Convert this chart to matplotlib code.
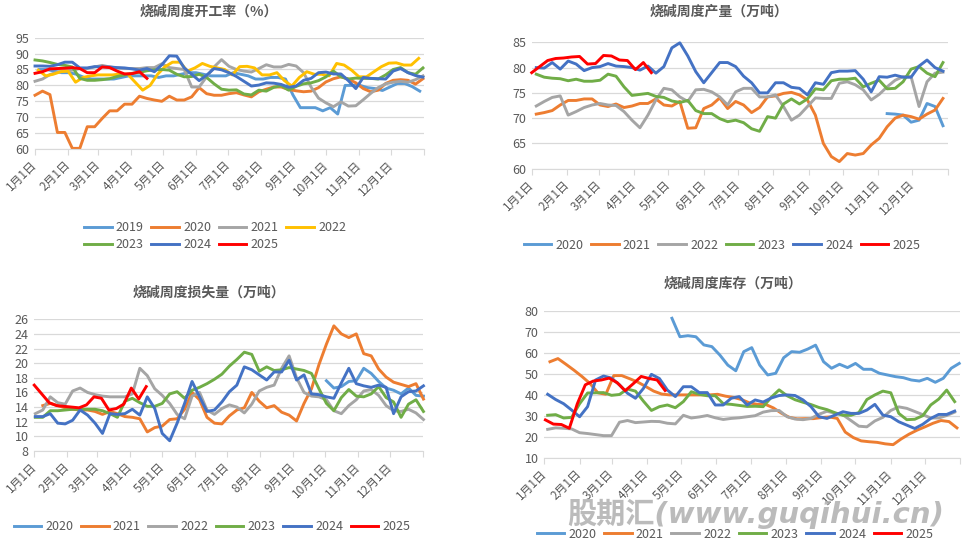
import numpy as np
import matplotlib
matplotlib.use('Agg')
import matplotlib.pyplot as plt

plt.rcParams['font.family'] = ['Noto Sans CJK SC', 'DejaVu Sans']

month_days = [0, 31, 59, 90, 120, 151, 181, 212, 243, 273, 304, 334, 365]
month_labels = ['1月1日', '2月1日', '3月1日', '4月1日', '5月1日', '6月1日', '7月1日',
                '8月1日', '9月1日', '10月1日', '11月1日', '12月1日', '']

# ---- 烧碱周度开工率（%） weekly values, first week start day ----
rate_2019 = [85, 85, 84.5, 84, 84, 83.5, 82.5, 82, 82, 82, 82, 82.5, 83, 83, 83, 83, 82.5, 83, 83, 83.5,
             84, 84, 83.5, 83, 83, 83, 84, 83.5, 83, 82, 82, 82.5, 82.5, 82, 77, 73, 73, 73, 72, 73,
             71, 80, 80, 80, 79.3, 79, 78.4, 79.5, 80.6, 80.6, 79.6, 78.2]
rate_2020 = [76.9, 78.2, 77.1, 65.2, 65.2, 60.2, 60.2, 67, 67, 69.6, 72, 72, 74.1, 74.1, 76.6, 75.9, 75.4, 75,
             76.6, 75.4, 75.4, 76.4, 79.3, 77.4, 76.9, 76.9, 77.4, 77.7, 77, 76.4, 78, 78.8, 79.5, 79.5, 78.7,
             78.3, 78, 78.2, 79.3, 81.1, 82.1, 82.7, 82, 80.8, 79, 78, 78.5, 80.6, 81.6, 81.8, 81.6, 80.4, 82.1]
rate_2021 = [81.3, 82, 83.4, 84.2, 84.5, 84.8, 85.3, 85.3, 85.8, 86.3, 85.8, 85.5, 85.3, 85.3, 85.3, 85.6, 85.6,
             86.8, 85.6, 85.3, 85, 79.5, 79.5, 82.7, 85.8, 88.1, 86, 85, 84.5, 84.2, 85.3, 86.5, 85.8, 85.8,
             86.6, 86.1, 84, 79.5, 76, 74.5, 73.3, 74.8, 73.5, 73.6, 75.5, 77.5, 79.3, 80.5, 81, 81.3, 81, 81.8, 83]
rate_2022 = [84.8, 83, 83.5, 84.3, 84.5, 81, 82.5, 83, 83.3, 83.3, 83.3, 83.6, 83.5, 81, 78.5, 80, 83.5, 85.9,
             87.3, 87.3, 84.5, 85.5, 86.9, 86, 85.5, 85, 83.3, 85.9, 86, 85.5, 83.3, 83.3, 84, 81.5, 79.8, 82.5,
             84.3, 83.5, 83.5, 83, 86.9, 86.4, 84.8, 82.7, 82.7, 84.3, 85.9, 87, 87.1, 86.4, 86.4, 88.5]
rate_2023 = [88, 87.7, 87.2, 86.6, 86.3, 85.8, 82.2, 81.6, 81.6, 81.8, 82.1, 82.8, 83.3, 83.8, 84.1, 84.6, 84.9,
             85, 84.8, 83.5, 82.7, 82.8, 83.5, 82.5, 80.5, 78.8, 78.5, 78.6, 77.3, 77, 78.5, 78.2, 79.4, 79.9,
             78.5, 79.7, 80.5, 80.8, 81.5, 82.7, 84.5, 82.7, 82, 82.3, 82.2, 82.2, 82, 83.3, 85, 85.6, 84, 83.5, 85.5]
rate_2024 = [86.1, 86.1, 86, 86.5, 87.3, 87.3, 85.5, 85.5, 85.9, 85.8, 85.8, 85.6, 85.5, 85.2, 84.8, 85.3, 84.3,
             86.5, 89.3, 89.2, 85.5, 83.5, 81.5, 83.2, 85.3, 84.9, 84, 82.8, 81.3, 79.8, 80.1, 80.8, 80.7, 80.3,
             79.4, 79.8, 81.6, 82.2, 84, 84.2, 83.6, 83.6, 81.5, 79, 82.5, 82.2, 82.1, 82, 84.5, 85.3, 84, 83.1, 82.6]
rate_2025 = [83.8, 84.3, 85.2, 85.3, 85.4, 85.6, 85.3, 84, 84, 85.8, 85.6, 84.5, 83.6, 83.7, 84.3, 82.2]

# ---- 烧碱周度产量（万吨） ----
prod_2020 = [70.9, 70.8, 70.6, 69.2, 69.6, 72.9, 72.3, 68.5]
prod_2021 = [70.8, 71.1, 71.5, 72.6, 73.5, 73.5, 73.8, 73.8, 72.6, 72.3, 72.8, 72.1, 72.4, 72.9, 72.9, 73.8,
             72.6, 72.4, 73.3, 68, 68.1, 71.9, 72.6, 74, 71.9, 73.3, 72.6, 71.1, 72.1, 74.2, 74.4, 74.9, 75.1,
             74.6, 73.6, 70.6, 65, 62.4, 61.4, 63, 62.7, 63, 64.7, 66, 68.3, 70, 70.6, 70.3, 69.8, 70.8, 71.6, 73.9]
prod_2022 = [72.4, 73.3, 74.1, 74.4, 70.6, 71.3, 72.1, 72.6, 72.9, 72.6, 72.5, 71.3, 69.6, 68.1, 70.6, 73.6,
             75.9, 75.6, 74.2, 73.3, 75.6, 75.7, 75.2, 74.2, 72.6, 75.2, 75.9, 75.9, 74.2, 74.2, 74.6, 72.3,
             69.6, 70.6, 72.3, 74, 73.9, 73.9, 76.9, 77.2, 76.6, 75.6, 73.6, 74.7, 76.2, 77.5, 78.2, 78.2, 72.3,
             77.2, 78.9, 79.1]
prod_2023 = [78.7, 78.1, 77.9, 77.8, 77.4, 77.7, 77.3, 77.3, 77.5, 78.7, 78.3, 76.2, 74.5, 74.7, 74.9, 74.3,
             74.1, 73.4, 73.1, 73.5, 71.5, 70.9, 70.9, 69.9, 69.3, 69.6, 69.1, 67.9, 67.4, 70.3, 70, 72.8, 73.8,
             72.8, 73.8, 75.8, 75.6, 77.4, 77.7, 77.7, 77.9, 76.2, 76.9, 77.5, 75.8, 75.9, 77.2, 79.7, 80.2, 78.9,
             78.2, 81]
prod_2024 = [80, 79.9, 81, 79.7, 81.3, 80.7, 79.4, 80, 80.2, 80.8, 80.3, 80.2, 80, 79.5, 80.3, 78.9, 80.2, 83.9,
             84.9, 82.3, 79.2, 77, 79, 81, 81, 80.2, 78.3, 77, 75, 75, 77, 77, 76.1, 75.9, 74.6, 77, 76.7, 79,
             79.3, 79.3, 79.4, 77.7, 75.2, 78.2, 78.1, 78.5, 78.1, 78.1, 80.3, 81.5, 80, 79.3]
prod_2025 = [79, 80.2, 81.4, 81.8, 81.9, 82.1, 82.2, 80.7, 80.8, 82.4, 82.3, 81.5, 81.4, 79.6, 81, 79]

# ---- 烧碱周度损失量（万吨） ----
loss_2020 = [17.6, 16.6, 16.8, 17.5, 17.6, 19.3, 18.6, 17.5, 16.6, 16.3, 15.8, 16.6, 15.6, 15.5]
loss_2021 = [14.2, 14.5, 14.2, 13.9, 13.7, 13.6, 13.6, 13.4, 13, 13.4, 13.1, 12.7, 12.6, 12.4, 10.6, 11.2, 11.4,
             12.3, 12.4, 13.7, 16, 15, 12.6, 11.8, 11.7, 12.8, 13.6, 13.9, 16, 14.8, 13.9, 14.2, 13.3, 12.9,
             12.1, 14.5, 16.5, 19.8, 22.6, 25.1, 24, 23.5, 24, 21.3, 21, 19.2, 18.1, 17.4, 17.1, 16.8, 17.2, 15.1]
loss_2022 = [13.1, 13.6, 15.4, 14.6, 14.4, 16.2, 16.6, 16, 15.7, 15.5, 15.4, 15.4, 15.4, 15.8, 19.3, 18.3, 16.5,
             15.6, 14.5, 13, 12.4, 15.5, 16, 13.6, 13, 13.8, 14.3, 14, 13.2, 14.4, 16.2, 16.7, 17, 19.3, 21, 18,
             16, 15.5, 15.4, 15, 13.5, 13.1, 14.2, 15, 16.2, 16.4, 15.6, 14.2, 13.5, 13.4, 13.7, 13.2, 12.3]
loss_2023 = [12.6, 12.6, 13.5, 13.5, 13.6, 13.7, 13.7, 13.7, 13.7, 13.5, 13.1, 12.6, 14.8, 15.2, 14.6, 14.1,
             14.1, 14.5, 15.8, 16.1, 15.2, 16.3, 16.7, 17.2, 17.8, 18.5, 19.6, 20.5, 21.5, 21.2, 18.9, 19.5, 19,
             19.1, 19.4, 19.2, 19, 18.6, 16.5, 14.5, 13.5, 15.3, 16.4, 15.5, 15.4, 15.8, 16.8, 15.3, 14.7, 12.6,
             14.4, 15, 13.4]
loss_2024 = [12.7, 12.7, 13.1, 11.8, 11.7, 12.2, 13.6, 12.9, 11.8, 10.4, 13.1, 13, 13.1, 13.7, 12.9, 15.4, 13.8,
             10.4, 9.4, 11.8, 14.5, 17.5, 15.4, 13.4, 13.6, 14.7, 16.1, 17, 19.5, 19.1, 18.4, 17.7, 18.8, 18.8,
             20.4, 17.7, 18.4, 15.8, 15.7, 15.4, 15.2, 17.3, 19.3, 17.2, 16.9, 16.7, 17, 16.7, 13.1, 15.4, 16.1,
             16.2, 16.9]
loss_2025 = [17, 15.8, 14.6, 14.2, 14.1, 14, 13.9, 14.3, 15.4, 15.2, 13.6, 13.8, 14.4, 16.6, 15.1, 16.8]

# ---- 烧碱周度库存（万吨） ----
stock_2020 = [76.7, 67.9, 68.4, 67.9, 64, 63.2, 59.2, 54.4, 51.7, 60.8, 62.7, 54.4, 49.7, 50.5, 57.9, 60.8,
              60.5, 62, 63.9, 56, 52.9, 54.8, 53.2, 55.2, 52.4, 52.4, 50.5, 49.7, 48.9, 48.4, 47.3, 46.8, 48.1,
              46.2, 48.1, 52.9, 55.2]
stock_2021 = [56, 57.5, 54.8, 52, 49, 45.7, 41.2, 40.5, 49.4, 49.4, 47.9, 46.3, 44.2, 42, 40.6, 40.2, 40.2,
              40.2, 40.2, 40.2, 40.2, 40.5, 39.6, 39, 38, 36.4, 35.7, 35.7, 34, 31.5, 29.5, 28.8, 28.9, 28.9,
              29.4, 29.7, 29, 22.5, 19.9, 18.3, 17.9, 17.6, 16.9, 16.5, 19.2, 21.5, 23.4, 25, 26.7, 28, 27.5, 24.5]
stock_2022 = [23.8, 24.5, 24.3, 24, 22.2, 21.8, 21.3, 20.8, 20.8, 27.2, 28, 27, 27.3, 27.6, 27.5, 26.7, 26.4,
              30.5, 29.2, 29.7, 30.4, 29.3, 28.5, 29, 29.3, 29.8, 30.3, 32, 32.7, 32.8, 29.8, 28.7, 28.4, 29, 31,
              32.4, 31.5, 30.7, 28, 25.3, 25, 27.8, 29.5, 32.8, 34.5, 33.8, 32.3, 30.8, 29.2, 29.2, 30.4, 32]
stock_2023 = [30.5, 30.8, 29.2, 29.5, 36, 41.1, 41.2, 41.3, 40, 40.4, 43, 42, 37.2, 32.8, 34.6, 35.4, 34.1, 37,
              41.7, 40.5, 39.8, 39.8, 36, 35.7, 35.2, 34.7, 34.8, 34.6, 39, 42.6, 39.8, 37.9, 36.7, 35.6, 34.2,
              33.2, 31.7, 30.5, 30.5, 31.8, 38, 40.2, 42, 41.2, 31.4, 28.4, 28.6, 30.3, 35.4, 38.2, 42.5, 37]
stock_2024 = [40.5, 38, 36, 33, 29.8, 34.6, 47.3, 49.2, 48.2, 45, 41, 38.6, 43.3, 50, 48, 42.5, 39.4, 44.1, 44.1,
              41.3, 41.3, 35.4, 35.4, 38.6, 39.4, 35.4, 37.8, 36.8, 38.7, 39.9, 40.2, 39.9, 37.8, 34.6, 29.8, 29,
              30.6, 32.2, 31.4, 31.4, 33, 35.7, 30.6, 29.8, 27.4, 25.8, 24.2, 26.2, 29, 30.9, 30.9, 32.5]
stock_2025 = [28.3, 26.3, 26.1, 24.3, 36, 45, 46.8, 47.3, 48.2, 46, 42.2, 45.5, 49, 48, 47.3, 42.3]

c = {'blue_l': '#5B9BD5', 'orange': '#ED7D31', 'gray': '#A5A5A5', 'yellow': '#FFC000',
     'green': '#70AD47', 'blue': '#4472C4', 'red': '#FF0000'}
txt = '#595959'
grid = '#D9D9D9'

W, H = 965, 544
fig = plt.figure(figsize=(W / 100, H / 100), dpi=100)


def px(x, y):
    return x / W, 1 - y / H


def draw(rect, title, tpos, series, ylim, ystep, legpos, ncol, order=None):
    ax = fig.add_axes(rect)
    handles = []
    for label, vals, start, col in series:
        x = start + 7 * np.arange(len(vals))
        h, = ax.plot(x, vals, color=col, lw=2.1, label=label, clip_on=False, solid_joinstyle='round')
        handles.append(h)
    ax.set_xlim(0, 365)
    ax.set_ylim(*ylim)
    ax.set_yticks(np.arange(ylim[0], ylim[1] + 0.1, ystep))
    ax.set_xticks(month_days)
    ax.set_xticklabels(month_labels, rotation=45, ha='right', va='center', rotation_mode='anchor')
    ax.grid(axis='y', color=grid, lw=0.9)
    ax.set_axisbelow(True)
    for s in ['top', 'right', 'left']:
        ax.spines[s].set_visible(False)
    ax.spines['bottom'].set_color(grid)
    ax.tick_params(axis='y', length=0, labelsize=9, colors=txt, pad=4)
    ax.tick_params(axis='x', length=4, color=grid, labelsize=8.5, labelcolor=txt, pad=6)
    fig.text(*px(*tpos), title, ha='center', va='center', fontsize=10, fontweight='bold', color=txt)
    if order is not None:
        handles = [handles[i] for i in order]
    leg = fig.legend(handles=handles, loc='center', bbox_to_anchor=px(*legpos), ncol=ncol,
                     frameon=False, fontsize=9, handlelength=2.2, handletextpad=0.35,
                     columnspacing=0.6, labelspacing=0.3, borderpad=0)
    for t in leg.get_texts():
        t.set_color(txt)
    return ax


draw([0.0363, 0.7261, 0.4031, 0.2046], '烧碱周度开工率（%）', (209, 12),
     [('2019', rate_2019, 4, c['blue_l']), ('2020', rate_2020, 0, c['orange']),
      ('2021', rate_2021, 0, c['gray']), ('2022', rate_2022, 3, c['yellow']),
      ('2023', rate_2023, 0, c['green']), ('2024', rate_2024, 0, c['blue']),
      ('2025', rate_2025, 0, c['red'])],
     (60, 95), 5, (215, 236), 4, order=[0, 4, 1, 5, 2, 6, 3])

draw([0.5510, 0.6899, 0.4309, 0.2323], '烧碱周度产量（万吨）', (719, 12),
     [('2020', prod_2020, 312, c['blue_l']), ('2021', prod_2021, 4, c['orange']),
      ('2022', prod_2022, 4, c['gray']), ('2023', prod_2023, 4, c['green']),
      ('2024', prod_2024, 4, c['blue']), ('2025', prod_2025, 0, c['red'])],
     (60, 85), 5, (722, 245), 6)

draw([0.0355, 0.1710, 0.4033, 0.2421], '烧碱周度损失量（万吨）', (209, 293),
     [('2020', loss_2020, 274, c['blue_l']), ('2021', loss_2021, 8, c['orange']),
      ('2022', loss_2022, 1, c['gray']), ('2023', loss_2023, 1, c['green']),
      ('2024', loss_2024, 1, c['blue']), ('2025', loss_2025, 0, c['red'])],
     (8, 26), 2, (212, 527), 6)

draw([0.5640, 0.1575, 0.4312, 0.2702], '烧碱周度库存（万吨）', (733, 284),
     [('2020', stock_2020, 112, c['blue_l']), ('2021', stock_2021, 5, c['orange']),
      ('2022', stock_2022, 3, c['gray']), ('2023', stock_2023, 3, c['green']),
      ('2024', stock_2024, 3, c['blue']), ('2025', stock_2025, 1, c['red'])],
     (10, 80), 10, (735, 534), 6)

fig.text(*px(756, 514), '股期汇(www.guqihui.cn)', ha='center', va='center', fontsize=21,
         fontweight='bold', fontstyle='italic', color='#B0B0B0', alpha=0.85,
         family=['DejaVu Sans', 'Noto Sans CJK SC'])

fig.savefig('out.png', dpi=100)
